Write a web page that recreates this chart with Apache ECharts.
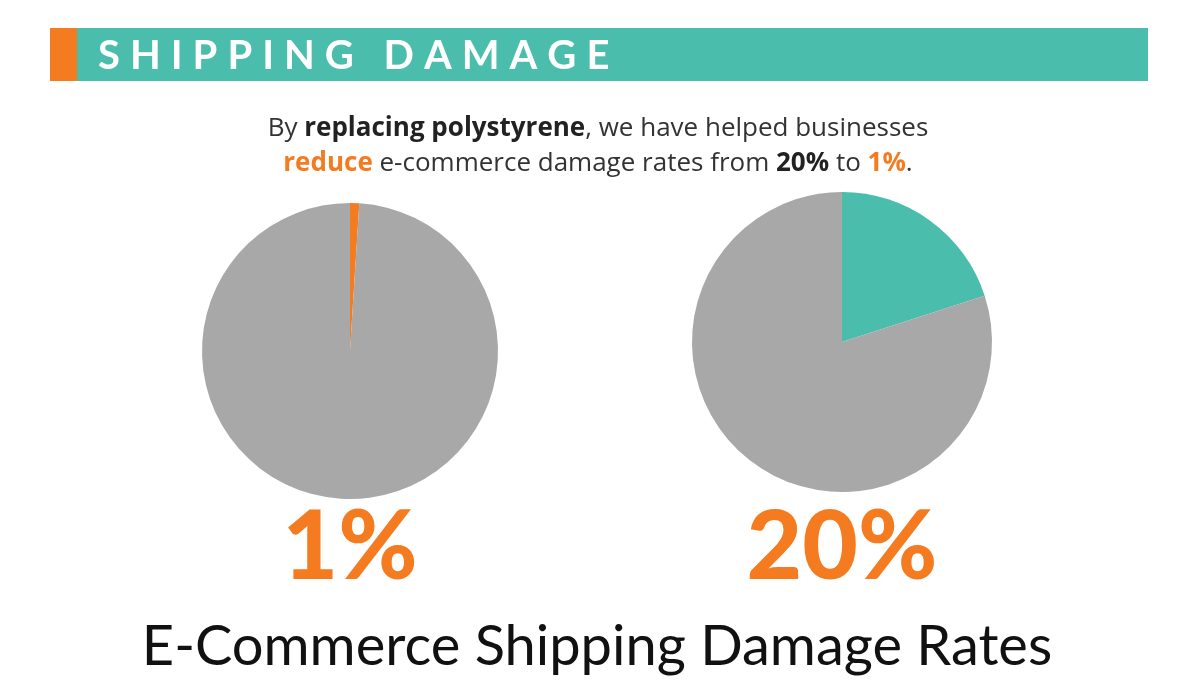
<!DOCTYPE html>
<html>
<head>
<meta charset="utf-8">
<script src="https://cdn.jsdelivr.net/npm/echarts@6/dist/echarts.min.js"></script>
<style>
  html, body { margin: 0; padding: 0; background: #fff; }
  #chart { width: 1200px; height: 695px; }
</style>
</head>
<body>
<div id="chart"></div>
<script>
const pieLabels = ['1%', '20%']
const damagedValues = [1, 20]
const intactValues = [99, 80]
const damagedColors = ['#F47B20', '#4BBDAD']

const ORANGE = '#F47B20'
const TEAL = '#4BBDAD'
const GREY = '#A8A8A8'
const FONT = 'Lato'
const SUB_FONT = '"Open Sans"'

function spaced(s) {
    // loose tracking for the header
    return s.split('').join('\u2005')
}

function draw() {
    const chart = echarts.init(document.getElementById('chart'), null, { renderer: 'canvas' })
    chart.setOption(getOptions())
}

function getOptions() {
    const centers = [[350, 351], [842, 342]]
    const radii = [148, 150]

    const series = pieLabels.map((name, i) => ({
        type: 'pie',
        center: centers[i],
        radius: radii[i],
        startAngle: 90,
        clockwise: true,
        silent: true,
        label: { show: false },
        labelLine: { show: false },
        itemStyle: { borderWidth: 0 },
        data: [
            { name: 'damaged', value: damagedValues[i], itemStyle: { color: damagedColors[i] } },
            { name: 'intact', value: intactValues[i], itemStyle: { color: GREY } },
        ],
    }))

    return {
        backgroundColor: '#fff',
        animation: false,
        series: series,
        graphic: [
            { type: 'rect', shape: { x: 50, y: 28, width: 1098, height: 53 }, style: { fill: TEAL } },
            { type: 'rect', shape: { x: 50, y: 28, width: 27, height: 53 }, style: { fill: ORANGE } },
            {
                type: 'text', x: 98, y: 56,
                style: {
                    text: spaced('SHIPPING DAMAGE'),
                    fill: '#fff', font: `bold 40px ${FONT}`,
                    textVerticalAlign: 'middle',
                },
            },
            {
                type: 'text', x: 598, y: 146,
                style: {
                    text: 'By {b|replacing polystyrene}, we have helped businesses\n{o|reduce} e-commerce damage rates from {b|20%} to {o|1%}.',
                    fill: '#333', font: `26px ${SUB_FONT}`,
                    align: 'center', verticalAlign: 'middle',
                    lineHeight: 35,
                    rich: {
                        b: { fontWeight: 'bold', fill: '#222', fontSize: 26, fontFamily: SUB_FONT, lineHeight: 35 },
                        o: { fontWeight: 'bold', fill: ORANGE, fontSize: 26, fontFamily: SUB_FONT, lineHeight: 35 },
                    },
                },
            },
            ...pieLabels.map((t, i) => ({
                type: 'text', x: centers[i][0], y: 548,
                style: {
                    text: t, fill: ORANGE, font: `900 96px ${FONT}`,
                    align: 'center', verticalAlign: 'middle',
                },
            })),
            {
                type: 'text', x: 597, y: 647,
                style: {
                    text: 'E-Commerce Shipping Damage Rates',
                    fill: '#111', font: `56px ${FONT}`,
                    align: 'center', verticalAlign: 'middle',
                },
            },
        ],
    }
}

draw()
</script>
</body>
</html>
